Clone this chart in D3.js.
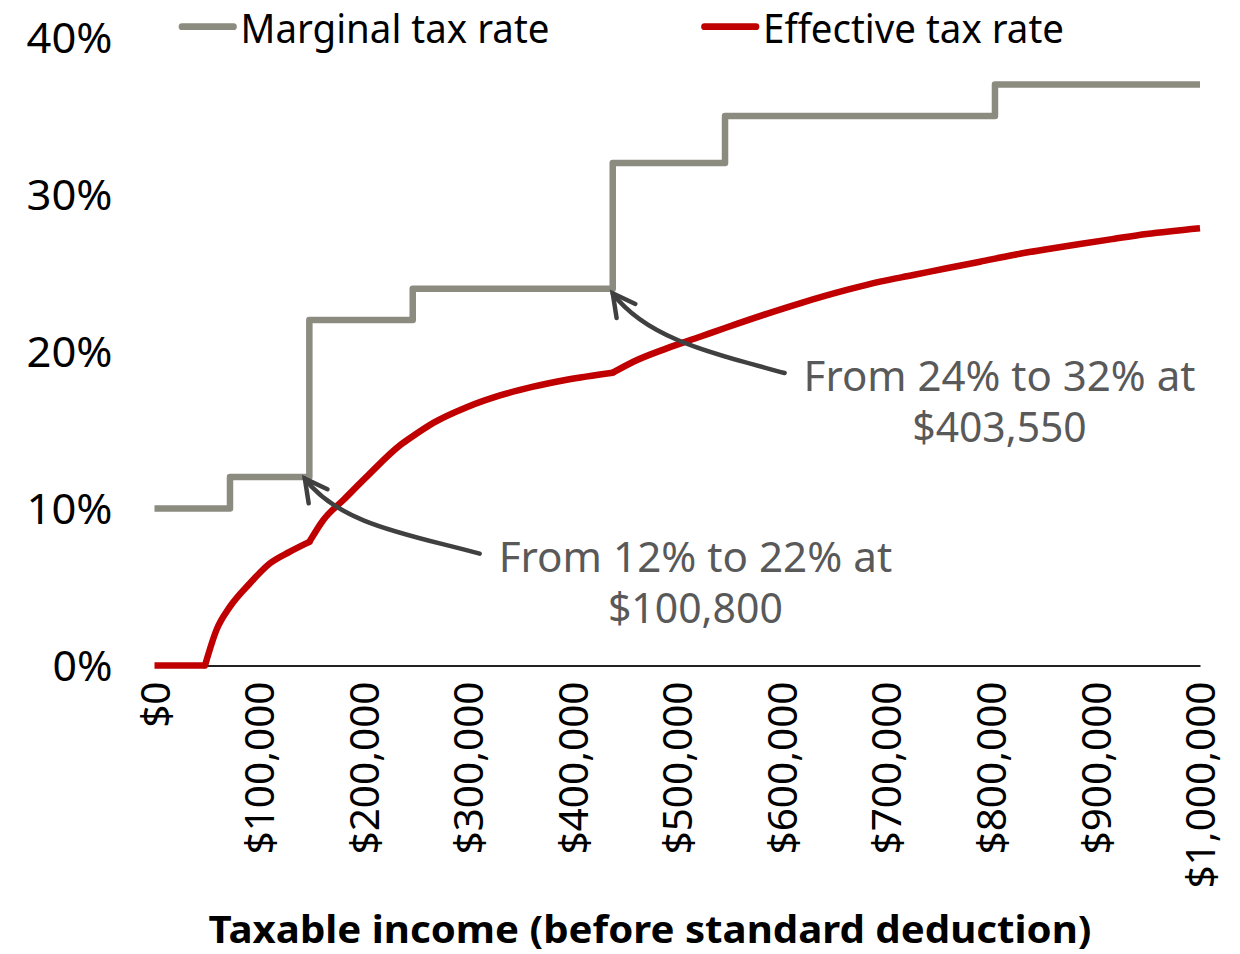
<!DOCTYPE html>
<html>
<head>
<meta charset="utf-8">
<script src="https://cdn.jsdelivr.net/npm/d3@7"></script>
<style>
  html, body { margin: 0; padding: 0; background: #fff; }
  svg { display: block; }
</style>
</head>
<body>
<svg id="chart" width="1240" height="954"></svg>
<script>
// ---- data ----------------------------------------------------------------
// Marginal rate: income at which each rate starts, and that rate (%)
const bracketStart = [0, 72200, 148100, 247000, 438300, 545700, 803900, 1000000];
const bracketRate  = [10, 12, 22, 24, 32, 35, 37, 37];

// Effective (average) rate sampled along income
const effIncome = [0, 48300, 59500, 72200, 91300, 110500, 129600, 148100, 161500, 180600,
                   203000, 235300, 247000, 266700, 298600, 330500, 362300, 394300, 438300,
                   458000, 489900, 521800, 545700, 585600, 617400, 662100, 693900, 725800,
                   757700, 789600, 821400, 853400, 885200, 917100, 949000, 1000000];
const effRate   = [0, 0, 2.3, 3.75, 5.24, 6.51, 7.25, 7.87, 9.27, 10.54,
                   12.03, 14.05, 14.6, 15.45, 16.45, 17.2, 17.76, 18.2, 18.65,
                   19.35, 20.2, 20.94, 21.5, 22.4, 23.07, 23.92, 24.45, 24.87,
                   25.3, 25.72, 26.15, 26.51, 26.85, 27.17, 27.48, 27.85];

const xTickValues = [0, 100000, 200000, 300000, 400000, 500000, 600000, 700000, 800000, 900000, 1000000];
const yTickValues = [0, 10, 20, 30, 40];

const seriesNames = ["Marginal tax rate", "Effective tax rate"];
const xTitle = "Taxable income (before standard deduction)";

// Call-outs: the step they point at (income, rate) and their text
const noteIncome = [148100, 438300];
const noteRate   = [12, 24];
const noteText   = [["From 12% to 22% at", "$100,800"], ["From 24% to 32% at", "$403,550"]];

// ---- layout & style -------------------------------------------------------
const FONT = "'Noto Sans', 'Open Sans', sans-serif";
const GRAY = "#8b8b80", RED = "#c00000", ARROW = "#404040", NOTE = "#595959";

const svg = d3.select("#chart");
const x = d3.scaleLinear().domain([0, 1000000]).range([154.5, 1200]);
const y = d3.scaleLinear().domain([0, 40]).range([665.5, 37.5]);

function fit(sel, w) {
  sel.attr("textLength", w).attr("lengthAdjust", "spacingAndGlyphs");
}

// ---- axes -----------------------------------------------------------------
const money = d3.format(",");
const xAxis = svg.append("g")
  .attr("transform", `translate(0,${y(0)})`)
  .call(d3.axisBottom(x).tickValues(xTickValues).tickSize(0).tickSizeOuter(0)
        .tickFormat(d => "$" + money(d)));
xAxis.attr("font-family", FONT).attr("font-size", 40.5).attr("color", "#000");
xAxis.select(".domain").attr("stroke", "#222").attr("stroke-width", 2);
xAxis.selectAll(".tick text")
  .attr("transform", "rotate(-90)")
  .attr("text-anchor", "end")
  .attr("x", -16)
  .attr("y", 0)
  .attr("dy", "0.36em");

const yAxis = svg.append("g")
  .attr("transform", "translate(112.5,0)")
  .call(d3.axisLeft(y).tickValues(yTickValues).tickSize(0).tickPadding(0)
        .tickFormat(d => d + "%"));
yAxis.attr("font-family", FONT).attr("font-size", 41).attr("color", "#000");
yAxis.select(".domain").remove();
yAxis.selectAll(".tick text").attr("dy", "0.36em")
  .each(function (d) { d3.select(this).call(fit, d === 0 ? 60 : 86); });

svg.append("text")
  .attr("x", 650).attr("y", 942.7)
  .attr("text-anchor", "middle")
  .attr("font-family", FONT).attr("font-size", 37).attr("font-weight", "bold")
  .attr("fill", "#000")
  .text(xTitle)
  .call(fit, 883);

// ---- series ---------------------------------------------------------------
const marginal = bracketStart.map((v, i) => [v, bracketRate[i]]);
const effective = effIncome.map((v, i) => [v, effRate[i]]);

svg.append("path")
  .datum(marginal)
  .attr("fill", "none").attr("stroke", GRAY).attr("stroke-width", 6.5)
  .attr("stroke-linejoin", "round").attr("stroke-linecap", "butt")
  .attr("d", d3.line().x(d => x(d[0])).y(d => y(d[1])).curve(d3.curveStepAfter));

// The effective rate is smooth between the points where it visibly bends:
// where tax starts and the two big bracket jumps.
const bends = [effIncome[1], bracketStart[2], bracketStart[4]];
const cuts = [0, ...bends.map(b => effIncome.indexOf(b)), effIncome.length - 1];
const smooth = d3.line().x(d => x(d[0])).y(d => y(d[1])).curve(d3.curveMonotoneX);
const pieces = [];
for (let k = 0; k < cuts.length - 1; k++) pieces.push(effective.slice(cuts[k], cuts[k + 1] + 1));

svg.append("g").selectAll("path").data(pieces).join("path")
  .attr("fill", "none").attr("stroke", RED).attr("stroke-width", 6.5)
  .attr("stroke-linejoin", "round")
  .attr("stroke-linecap", (d, i) => (i === 0 || i === pieces.length - 1) ? "butt" : "round")
  .attr("d", smooth);

// ---- legend ---------------------------------------------------------------
const legend = [
  { name: seriesNames[0], color: GRAY, x0: 179, x1: 236.5, tx: 240.5, w: 309 },
  { name: seriesNames[1], color: RED,  x0: 701.5, x1: 759, tx: 763, w: 301 }
];
const lg = svg.append("g").selectAll("g").data(legend).join("g");
lg.append("line")
  .attr("x1", d => d.x0 + 3).attr("x2", d => d.x1 - 3)
  .attr("y1", 26.7).attr("y2", 26.7)
  .attr("stroke", d => d.color).attr("stroke-width", 6.7).attr("stroke-linecap", "round");
lg.append("text")
  .attr("x", d => d.tx).attr("y", 42.5)
  .attr("font-family", FONT).attr("font-size", 39.5).attr("fill", "#000")
  .text(d => d.name)
  .each(function (d) { d3.select(this).call(fit, d.w); });

// ---- call-outs ------------------------------------------------------------
const noteLayout = [
  { tipDx: -4.5, tipDy: 1.5, textX: 695.4, base: 571.7, widths: [393.5, 174.9] },
  { tipDx: 0,    tipDy: 4.6, textX: 999.5, base: 391,   widths: [391.8, 174.4] }
];
const LINE_GAP = 51;

noteText.forEach((lines, i) => {
  const L = noteLayout[i];
  const tip = [x(noteIncome[i]) + L.tipDx, y(noteRate[i]) + L.tipDy];
  const g = svg.append("g");

  const t = g.append("text")
    .attr("font-family", FONT).attr("font-size", 41).attr("fill", NOTE)
    .attr("text-anchor", "middle");
  lines.forEach((s, k) => {
    t.append("tspan").attr("x", L.textX).attr("y", L.base + k * LINE_GAP)
      .text(s).call(fit, L.widths[k]);
  });

  // tail sits just left of the first text line, at mid cap height
  const tail = [L.textX - L.widths[0] / 2 - 19, L.base - 18];
  const tailDir = [-0.964, -0.266];
  const tipDir = [0.6, 0.8];
  const c1 = [tail[0] + 70 * tailDir[0], tail[1] + 70 * tailDir[1]];
  const c2 = [tip[0] + 58 * tipDir[0], tip[1] + 58 * tipDir[1]];
  const p = d3.path();
  p.moveTo(tail[0], tail[1]);
  p.bezierCurveTo(c1[0], c1[1], c2[0], c2[1], tip[0], tip[1]);
  g.append("path").attr("d", p.toString())
    .attr("fill", "none").attr("stroke", ARROW).attr("stroke-width", 4.5)
    .attr("stroke-linecap", "round");

  // open chevron head
  const ang = Math.atan2(tipDir[1], tipDir[0]);
  const half = 28 * Math.PI / 180, len = 25;
  const a1 = [tip[0] + len * Math.cos(ang - half), tip[1] + len * Math.sin(ang - half)];
  const a2 = [tip[0] + len * Math.cos(ang + half), tip[1] + len * Math.sin(ang + half)];
  g.append("path")
    .attr("d", `M${a1[0]},${a1[1]}L${tip[0]},${tip[1]}L${a2[0]},${a2[1]}`)
    .attr("fill", "none").attr("stroke", ARROW).attr("stroke-width", 4.5)
    .attr("stroke-linecap", "round").attr("stroke-linejoin", "miter");
});
</script>
</body>
</html>
